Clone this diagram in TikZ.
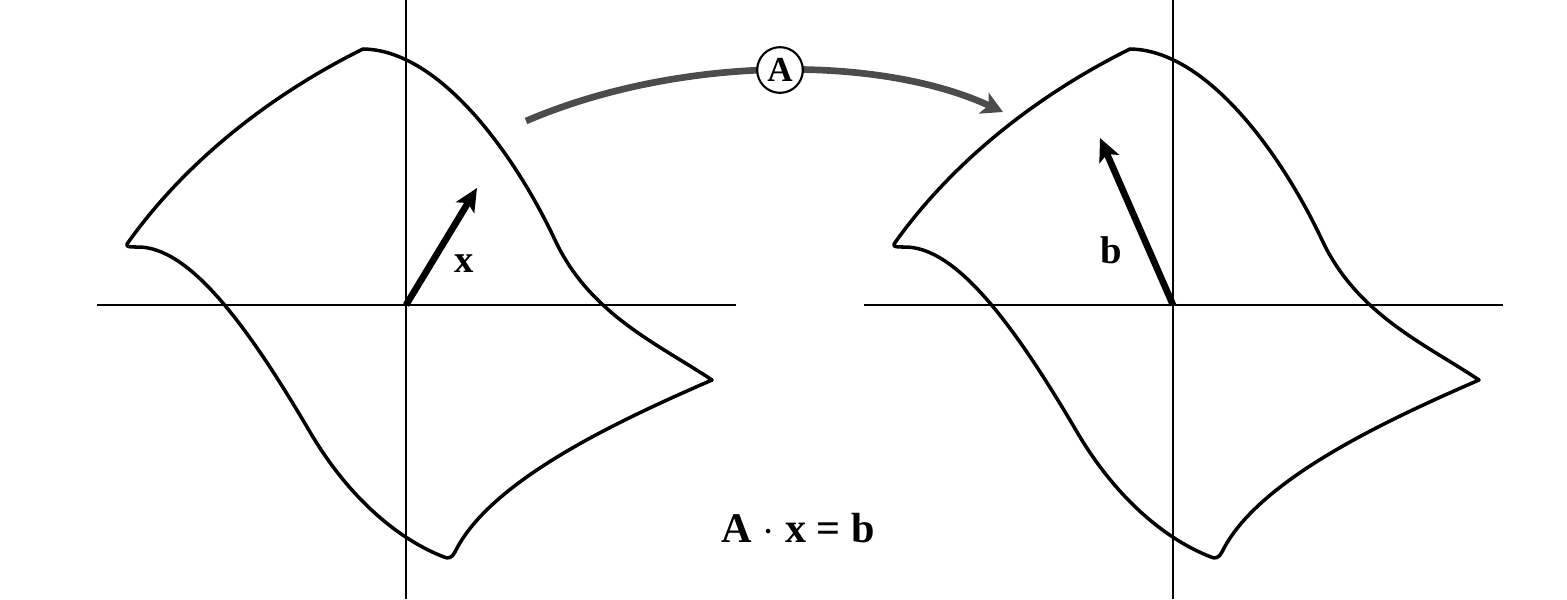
\documentclass[tikz,border=0pt]{standalone}
\usepackage{fontspec}
\setmainfont{Liberation Serif}
\usetikzlibrary{positioning, arrows.meta, calc}

% outline of the region that the map acts on
\newcommand{\regionpath}{%
  (127,244) .. controls (190,155) and (280,90) .. (363,49)
  .. controls (440,50) and (515,155) .. (555,240)
  .. controls (590,315) and (660,345) .. (712,380)
  .. controls (620,420) and (490,480) .. (455,552)
  .. controls (452,558) and (448,559) .. (444,557)
  .. controls (400,540) and (350,500) .. (310,432)
  .. controls (250,330) and (190,245) .. (136,247)
  .. controls (130,247) and (126,247) .. cycle}

\begin{document}
\begin{tikzpicture}[
  x=0.02cm, y=-0.02cm,
  axis/.style={line width=1.2pt},
  region/.style={line width=2pt, line join=round},
  vec/.style={-{Stealth[length=13pt, width=12pt, inset=3pt]}, line width=3.8pt},
  maparr/.style={-{Stealth[length=12pt, width=13pt, inset=3pt]}, line width=3.8pt, color=black!70},
  lbl/.style={font=\fontsize{22}{25}\selectfont\bfseries, inner sep=0pt},
  op/.style={circle, draw, line width=1.2pt, fill=white, minimum size=26pt,
             inner sep=0pt, font=\fontsize{20}{23}\selectfont\bfseries},
]
  \useasboundingbox (0,0) rectangle (1567,599);

  % left copy: x
  \coordinate (oL) at (406,305);
  \draw[axis] (97,305) -- (736,305);
  \draw[axis] (406,0) -- (406,599);
  \draw[region] \regionpath;
  \coordinate (xtip) at (477,188);
  \draw[vec] (oL) -- (xtip);
  \node[lbl] (xlbl) at (464,264) {x};

  % right copy: b
  \begin{scope}[shift={(767,0)}]
    \coordinate (oR) at (406,305);
    \draw[axis] (97,305) -- (736,305);
    \draw[axis] (406,0) -- (406,599);
    \draw[region] \regionpath;
    \coordinate (btip) at (333,138);
    \draw[vec] (oR) -- (btip);
    \node[lbl] (blbl) at (344,250) {b};
  \end{scope}

  % the map A
  \coordinate (mapstart) at (526,121);
  \coordinate (mapend) at (1003,112);
  \draw[maparr] (mapstart) .. controls (680,55) and (880,55) .. (mapend);
  \node[op] (opA) at (780,70) {A};

  \node[font=\fontsize{24}{27}\selectfont\bfseries, inner sep=0pt] (eqn) at (798,528) {A $\cdot$ x = b};
\end{tikzpicture}
\end{document}
